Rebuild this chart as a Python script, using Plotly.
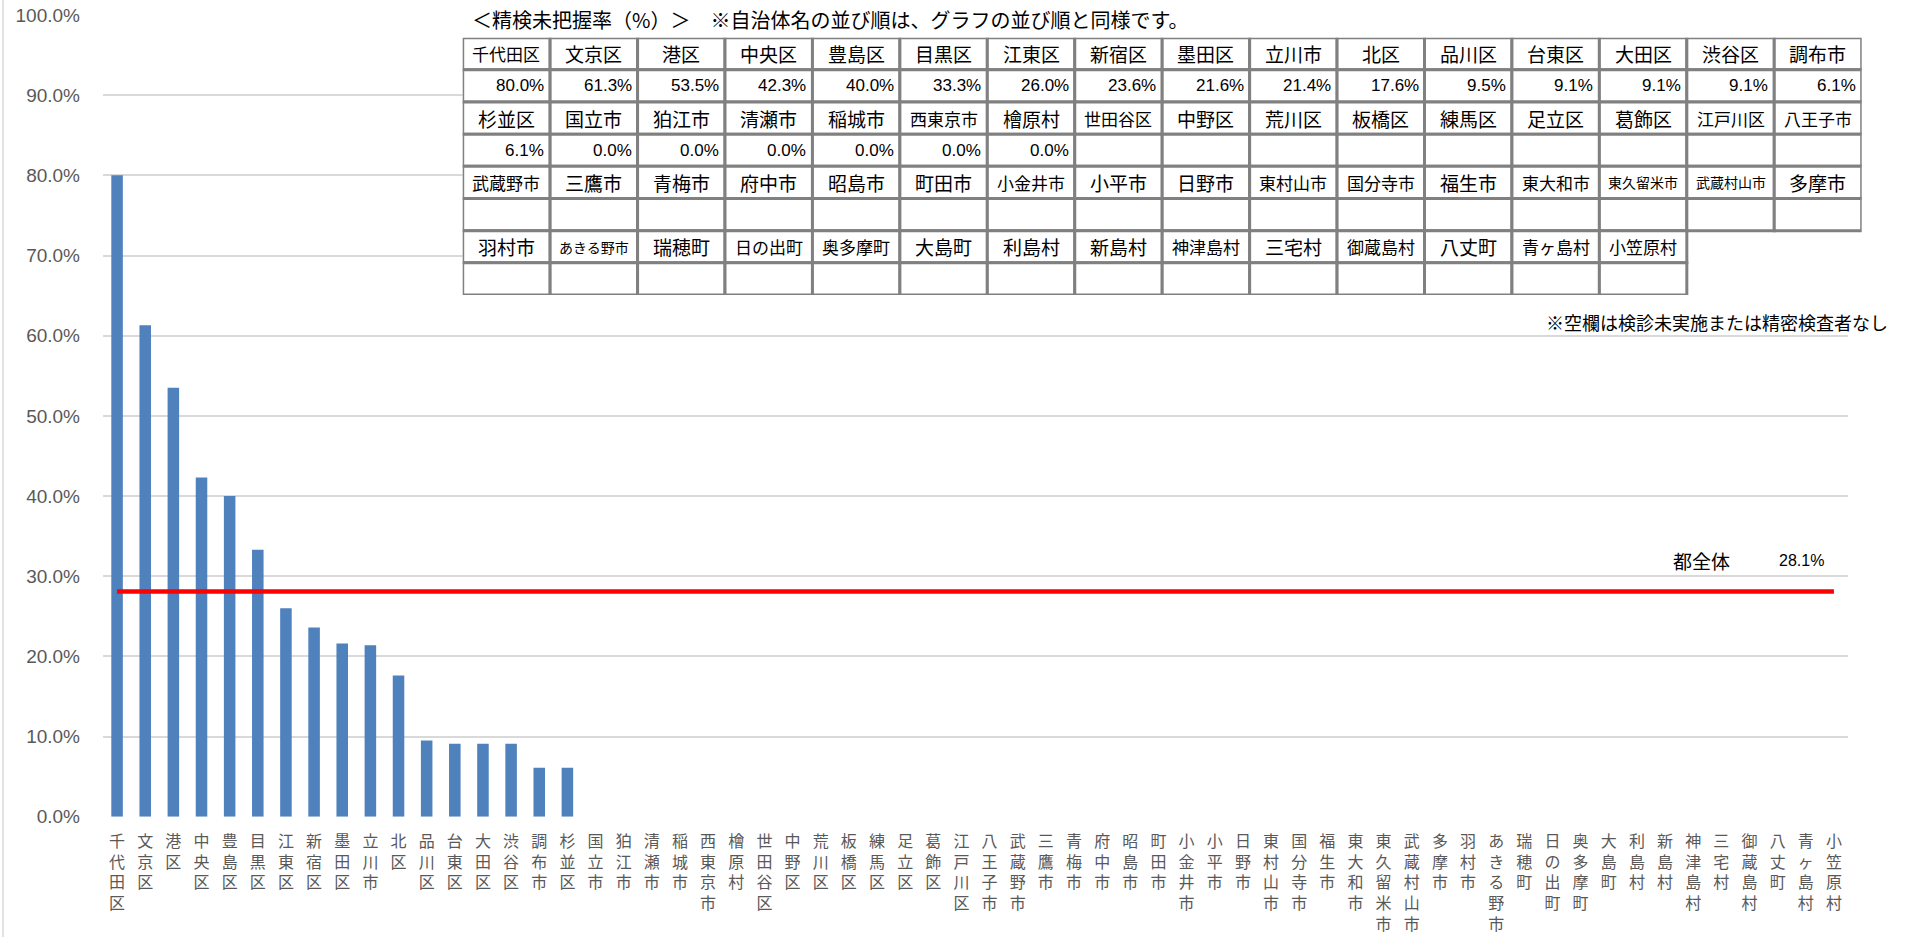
import plotly.graph_objects as go

# ---------------- data ----------------
municipalities = [
    "千代田区", "文京区", "港区", "中央区", "豊島区", "目黒区", "江東区", "新宿区",
    "墨田区", "立川市", "北区", "品川区", "台東区", "大田区", "渋谷区", "調布市",
    "杉並区", "国立市", "狛江市", "清瀬市", "稲城市", "西東京市", "檜原村", "世田谷区",
    "中野区", "荒川区", "板橋区", "練馬区", "足立区", "葛飾区", "江戸川区", "八王子市",
    "武蔵野市", "三鷹市", "青梅市", "府中市", "昭島市", "町田市", "小金井市", "小平市",
    "日野市", "東村山市", "国分寺市", "福生市", "東大和市", "東久留米市", "武蔵村山市", "多摩市",
    "羽村市", "あきる野市", "瑞穂町", "日の出町", "奥多摩町", "大島町", "利島村", "新島村",
    "神津島村", "三宅村", "御蔵島村", "八丈町", "青ヶ島村", "小笠原村",
]
# 精検未把握率 (%) ; None = 空欄（検診未実施または精密検査者なし）
rates = [
    80.0, 61.3, 53.5, 42.3, 40.0, 33.3, 26.0, 23.6,
    21.6, 21.4, 17.6, 9.5, 9.1, 9.1, 9.1, 6.1,
    6.1, 0.0, 0.0, 0.0, 0.0, 0.0, 0.0, None,
    None, None, None, None, None, None, None, None,
    None, None, None, None, None, None, None, None,
    None, None, None, None, None, None, None, None,
    None, None, None, None, None, None, None, None,
    None, None, None, None, None, None,
]
overall_label = "都全体"
overall_rate = 28.1
y_tick_values = [0, 10, 20, 30, 40, 50, 60, 70, 80, 90, 100]
table_title = "＜精検未把握率（%）＞　※自治体名の並び順は、グラフの並び順と同様です。"
table_note = "※空欄は検診未実施または精密検査者なし"
TABLE_COLS = 16

# ---------------- layout geometry (pixels) ----------------
W, H = 1905, 937
PL, PR, PT, PB = 103, 1848, 15, 816.7          # main plot area
TL, TR, TT, TB = 462.7, 1861.7, 37.7, 295.0    # table area
CELL_W = (TR - TL) / TABLE_COLS
CELL_H = (TB - TT) / 8

JP = "Noto Sans CJK JP"
NUM = "Liberation Sans, Arial, " + JP
NUM_NARROW = "Liberation Sans Narrow, Arial Narrow, Liberation Sans, " + JP
GRAY_TXT = "#595959"

fig = go.Figure()

fig.add_trace(go.Bar(
    x=municipalities,
    y=[r / 100 if r is not None else None for r in rates],
    marker=dict(color="#4F81BD", line=dict(width=0)),
    hoverinfo="x+y",
    showlegend=False,
))
fig.add_trace(go.Scatter(
    x=municipalities,
    y=[overall_rate / 100] * len(municipalities),
    mode="lines",
    line=dict(color="#FF0000", width=4.5),
    showlegend=False,
))

fig.update_layout(
    width=W, height=H, autosize=False,
    margin=dict(l=0, r=0, t=0, b=0, pad=0, autoexpand=False),
    paper_bgcolor="white", plot_bgcolor="white",
    bargap=0.59,
    showlegend=False,
    xaxis=dict(
        domain=[PL / W, PR / W],
        type="category",
        range=[-0.5, len(municipalities) - 0.5],
        tickmode="array",
        tickvals=municipalities,
        ticktext=["<br>".join(list(n)) for n in municipalities],
        tickfont=dict(family=JP, size=16, color=GRAY_TXT),
        showgrid=False, showline=False, zeroline=False, ticks="",
        ticklabelstandoff=13,
        automargin=False,
        anchor="y",
    ),
    yaxis=dict(
        domain=[(H - PB) / H, (H - PT) / H],
        range=[0, 1],
        tickmode="array",
        tickvals=[v / 100 for v in y_tick_values],
        tickformat=".1%",
        tickfont=dict(family=NUM, size=19, color=GRAY_TXT),
        showgrid=True, gridcolor="#D9D9D9", gridwidth=2,
        zeroline=False, showline=False, ticks="",
        ticklabelstandoff=22,
        automargin=False,
        anchor="x",
    ),
    xaxis2=dict(domain=[TL / W, TR / W], range=[0, TABLE_COLS], visible=False,
                anchor="y2", fixedrange=True, automargin=False),
    yaxis2=dict(domain=[(H - TB) / H, (H - TT) / H], range=[8, 0], visible=False,
                anchor="x2", fixedrange=True, automargin=False),
)

shapes = []
# white backdrop behind the table block (hides the gridlines there)
shapes.append(dict(
    type="rect", xref="x2", yref="y2",
    x0=0, x1=(W - TL) / CELL_W,
    y0=-(TT + 2) / CELL_H, y1=(300 - TT) / CELL_H,
    fillcolor="white", line=dict(width=0),
))
# chart frame left edge
shapes.append(dict(type="line", xref="paper", yref="paper",
                   x0=3 / W, x1=3 / W, y0=0, y1=1,
                   line=dict(color="#D9D9D9", width=1.5)))

annotations = []
for k, name in enumerate(municipalities):
    block, col = divmod(k, TABLE_COLS)
    name_row, val_row = 2 * block, 2 * block + 1
    for row in (name_row, val_row):
        shapes.append(dict(type="rect", xref="x2", yref="y2",
                           x0=col, x1=col + 1, y0=row, y1=row + 1,
                           fillcolor="white",
                           line=dict(color="#808080", width=3)))
    n = len(name)
    fsize = 19 if n <= 3 else (17 if n == 4 else 14)
    annotations.append(dict(xref="x2", yref="y2", x=col + 0.5, y=name_row + 0.5,
                            text=name, showarrow=False, xanchor="center", yanchor="middle",
                            font=dict(family=JP, size=fsize, color="black")))
    r = rates[k]
    if r is not None:
        annotations.append(dict(xref="x2", yref="y2", x=col + 1, y=val_row + 0.5,
                                text=f"{r:.1f}%", showarrow=False, xanchor="right",
                                yanchor="middle", xshift=-4,
                                font=dict(family=NUM_NARROW, size=17, color="black")))

annotations.append(dict(xref="paper", yref="paper", x=470 / W, y=1 - 20 / H,
                        text=table_title, showarrow=False, xanchor="left", yanchor="middle",
                        font=dict(family=JP, size=20, color="black")))
annotations.append(dict(xref="paper", yref="paper", x=1890 / W, y=1 - 322 / H,
                        text=table_note, showarrow=False, xanchor="right", yanchor="middle",
                        font=dict(family=JP, size=18, color="black")))
annotations.append(dict(xref="x", yref="y", x=56.3, y=overall_rate / 100, yshift=31,
                        text=overall_label, showarrow=False, xanchor="center", yanchor="middle",
                        font=dict(family=JP, size=19, color="black")))
annotations.append(dict(xref="x", yref="y", x=59.86, y=overall_rate / 100, yshift=31,
                        text=f"{overall_rate:.1f}%", showarrow=False, xanchor="center",
                        yanchor="middle",
                        font=dict(family=NUM, size=16, color="black")))

fig.update_layout(shapes=shapes, annotations=annotations)

fig.write_html("out.html",
               config={"displayModeBar": False, "responsive": False},
               post_script="document.body.style.margin='0';document.body.style.overflow='hidden';")
